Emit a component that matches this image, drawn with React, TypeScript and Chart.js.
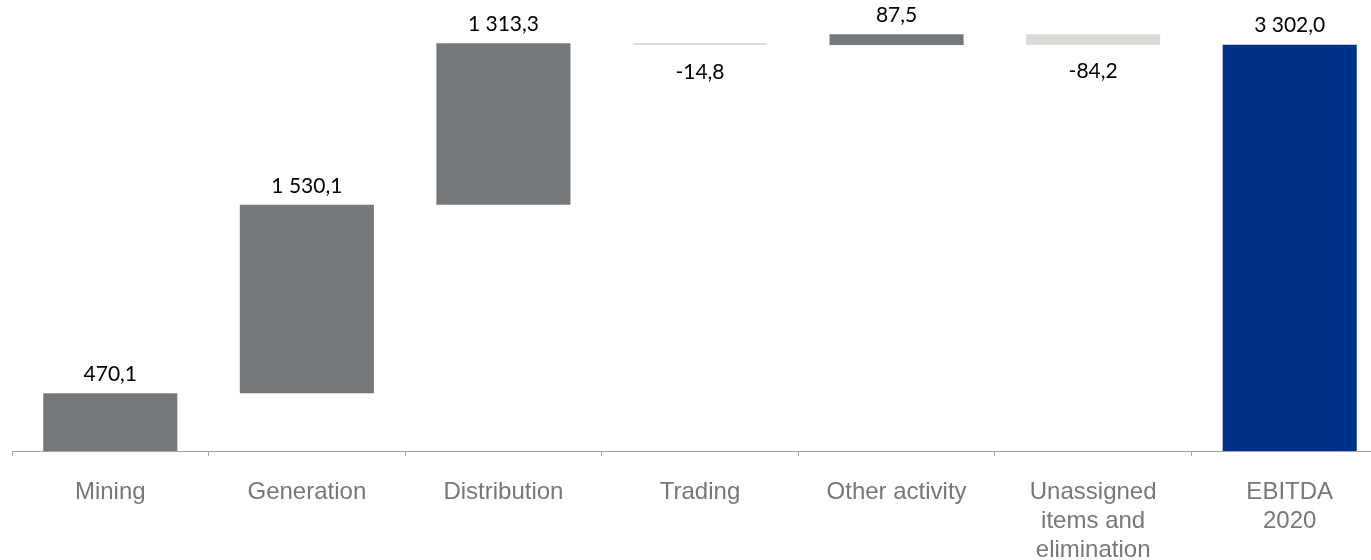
import React, { useEffect, useRef } from "react";
import { Chart, registerables } from "chart.js";

Chart.register(...registerables);

const categories: (string | string[])[] = [
  "Mining",
  "Generation",
  "Distribution",
  "Trading",
  "Other activity",
  ["Unassigned", "items and", "elimination"],
  ["EBITDA", "2020"],
];
const deltas = [470.1, 1530.1, 1313.3, -14.8, 87.5, -84.2];
const totalValue = 3302.0;

const COLOR_UP = "#75787B";
const COLOR_DOWN = "#D9D9D6";
const COLOR_TOTAL = "#003087";

function fmt(v: number): string {
  const s = Math.abs(v).toFixed(1).replace(".", ",");
  const [i, d] = s.split(",");
  const withSpaces = i.replace(/\B(?=(\d{3})+(?!\d))/g, " ");
  return (v < 0 ? "-" : "") + withSpaces + "," + d;
}

export default function App() {
  const ref = useRef<HTMLCanvasElement | null>(null);

  useEffect(() => {
    if (!ref.current) return;
    const floats: [number, number][] = [];
    const colors: string[] = [];
    const labelValues: number[] = [];
    let run = 0;
    deltas.forEach((d) => {
      floats.push([run, run + d]);
      colors.push(d >= 0 ? COLOR_UP : COLOR_DOWN);
      labelValues.push(d);
      run += d;
    });
    floats.push([0, totalValue]);
    colors.push(COLOR_TOTAL);
    labelValues.push(totalValue);

    const labelPlugin = {
      id: "wfLabels",
      afterDatasetsDraw(chart: any) {
        const ctx = chart.ctx;
        const meta = chart.getDatasetMeta(0);
        ctx.save();
        ctx.font = "21px Lato, 'Open Sans', sans-serif";
        ctx.fillStyle = "#000000";
        ctx.textAlign = "center";
        ctx.textBaseline = "middle";
        meta.data.forEach((el: any, i: number) => {
          const top = Math.min(el.y, el.base);
          const bottom = Math.max(el.y, el.base);
          const v = labelValues[i];
          const y = v >= 0 ? top - 19 : bottom + 27;
          ctx.fillText(fmt(v), el.x, y);
        });
        ctx.restore();
      },
    };

    const chart = new Chart(ref.current, {
      type: "bar",
      data: {
        labels: categories,
        datasets: [
          {
            data: floats as any,
            backgroundColor: colors,
            borderWidth: 0,
            barPercentage: 0.682,
            categoryPercentage: 1,
            borderSkipped: false,
          },
        ],
      },
      options: {
        animation: false,
        responsive: false,
        devicePixelRatio: 1,
        layout: { padding: { left: 12, top: 8, right: 0, bottom: 0 } },
        plugins: {
          legend: { display: false },
          tooltip: { enabled: false },
        },
        scales: {
          y: {
            display: false,
            min: 0,
            max: 3600,
          },
          x: {
            offset: true,
            grid: {
              offset: true,
              drawOnChartArea: false,
              drawTicks: true,
              tickLength: 5,
              color: "#A6A6A6",
            },
            border: { display: true, color: "#A6A6A6", width: 1 },
            ticks: {
              padding: 22,
              color: "#75787B",
              autoSkip: false,
              maxRotation: 0,
              font: {
                family: "'Liberation Sans', Arial, sans-serif",
                size: 24,
                lineHeight: 1.2,
              },
            },
            afterFit: (scale: any) => {
              scale.height = 109;
            },
          },
        },
      },
      plugins: [labelPlugin],
    });
    return () => chart.destroy();
  }, []);

  return (
    <div
      style={{
        position: "fixed",
        left: 0,
        top: 0,
        width: 1371,
        height: 560,
        overflow: "hidden",
        background: "#ffffff",
      }}
    >
      <canvas ref={ref} width={1388} height={560} style={{ display: "block" }} />
    </div>
  );
}
